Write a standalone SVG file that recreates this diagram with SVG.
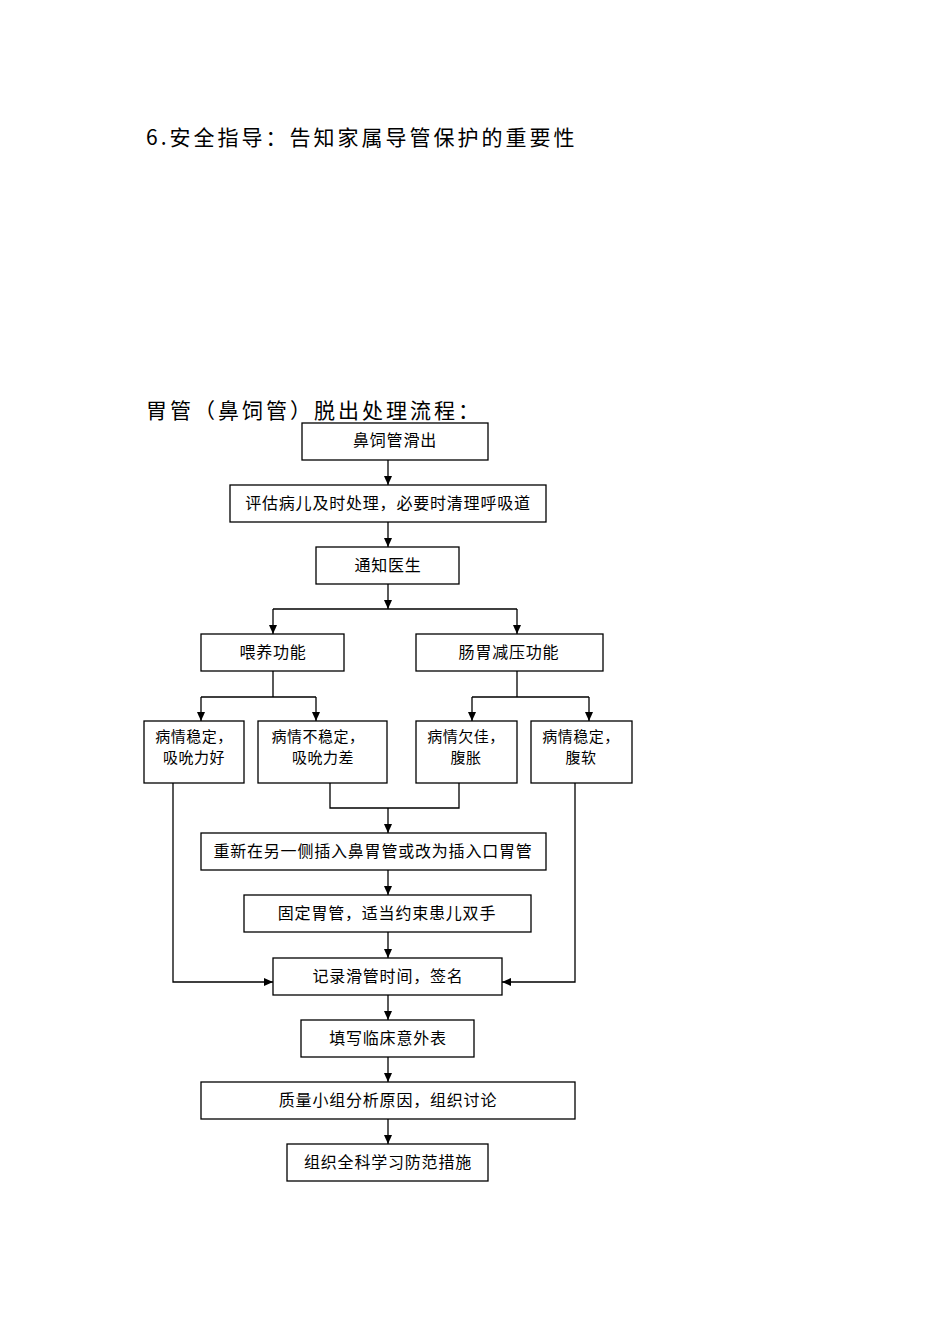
<svg xmlns="http://www.w3.org/2000/svg" width="950" height="1344" viewBox="0 0 950 1344">
<style>
.b{fill:#fff;stroke:#000;stroke-width:1.3}
.t{font-family:"Noto Sans CJK SC",sans-serif;font-size:16px;text-anchor:middle;fill:#000;letter-spacing:0.8px}
.s{font-size:15px;letter-spacing:0.5px}
.h{font-family:"Noto Sans CJK SC",sans-serif;font-size:21px;fill:#000;letter-spacing:3px}
.c{fill:none;stroke:#000;stroke-width:1.3;marker-end:url(#a)}
.l{fill:none;stroke:#000;stroke-width:1.3}
</style>
<defs><marker id="a" markerWidth="10" markerHeight="10" refX="9" refY="5" orient="auto" markerUnits="userSpaceOnUse"><path d="M0,1L9,5L0,9Z" fill="#000"/></marker></defs>
<rect width="950" height="1344" fill="#fff"/>
<text class="h" x="146" y="145">6.安全指导：告知家属导管保护的重要性</text>
<text class="h" x="146" y="418">胃管（鼻饲管）脱出处理流程：</text>
<g id="connectors">
<path class="c" d="M388,460V485"/>
<path class="c" d="M388,522V547"/>
<path class="c" d="M388,584V609"/>
<path class="l" d="M273,609H517"/>
<path class="c" d="M273,609V634"/>
<path class="c" d="M517,609V634"/>
<path class="l" d="M273,671V697M201,697H316M472,697H589M517,671V697"/>
<path class="c" d="M201,697V721"/>
<path class="c" d="M316,697V721"/>
<path class="c" d="M472,697V721"/>
<path class="c" d="M589,697V721"/>
<path class="l" d="M330,783V808H459V783"/>
<path class="c" d="M388,808V833"/>
<path class="c" d="M388,870V895"/>
<path class="c" d="M388,932V958"/>
<path class="c" d="M173,783V982H273"/>
<path class="c" d="M575,783V982H502"/>
<path class="c" d="M388,995V1020"/>
<path class="c" d="M388,1057V1082"/>
<path class="c" d="M388,1119V1144"/>
</g>
<g id="n1"><rect class="b" x="302" y="423" width="186" height="37"/><text class="t" x="395" y="446">鼻饲管滑出</text></g>
<g id="n2"><rect class="b" x="230" y="485" width="316" height="37"/><text class="t" x="388" y="509">评估病儿及时处理，必要时清理呼吸道</text></g>
<g id="n3"><rect class="b" x="316" y="547" width="143" height="37"/><text class="t" x="388" y="571">通知医生</text></g>
<g id="n4"><rect class="b" x="201" y="634" width="143" height="37"/><text class="t" x="273" y="658">喂养功能</text></g>
<g id="n5"><rect class="b" x="416" y="634" width="187" height="37"/><text class="t" x="509" y="658">肠胃减压功能</text></g>
<g id="n6"><rect class="b" x="144" y="721" width="100" height="62"/><text class="t s" x="194" y="742">病情稳定，</text><text class="t s" x="194" y="763">吸吮力好</text></g>
<g id="n7"><rect class="b" x="258" y="721" width="129" height="62"/><text class="t s" x="318" y="742">病情不稳定，</text><text class="t s" x="323" y="763">吸吮力差</text></g>
<g id="n8"><rect class="b" x="416" y="721" width="101" height="62"/><text class="t s" x="466" y="742">病情欠佳，</text><text class="t s" x="466" y="763">腹胀</text></g>
<g id="n9"><rect class="b" x="531" y="721" width="101" height="62"/><text class="t s" x="581" y="742">病情稳定，</text><text class="t s" x="581" y="763">腹软</text></g>
<g id="n10"><rect class="b" x="201" y="833" width="345" height="37"/><text class="t" x="373" y="857">重新在另一侧插入鼻胃管或改为插入口胃管</text></g>
<g id="n11"><rect class="b" x="244" y="895" width="287" height="37"/><text class="t" x="387" y="919">固定胃管，适当约束患儿双手</text></g>
<g id="n12"><rect class="b" x="273" y="958" width="229" height="37"/><text class="t" x="388" y="982">记录滑管时间，签名</text></g>
<g id="n13"><rect class="b" x="301" y="1020" width="173" height="37"/><text class="t" x="388" y="1044">填写临床意外表</text></g>
<g id="n14"><rect class="b" x="201" y="1082" width="374" height="37"/><text class="t" x="388" y="1106">质量小组分析原因，组织讨论</text></g>
<g id="n15"><rect class="b" x="287" y="1144" width="201" height="37"/><text class="t" x="388" y="1168">组织全科学习防范措施</text></g>
</svg>
